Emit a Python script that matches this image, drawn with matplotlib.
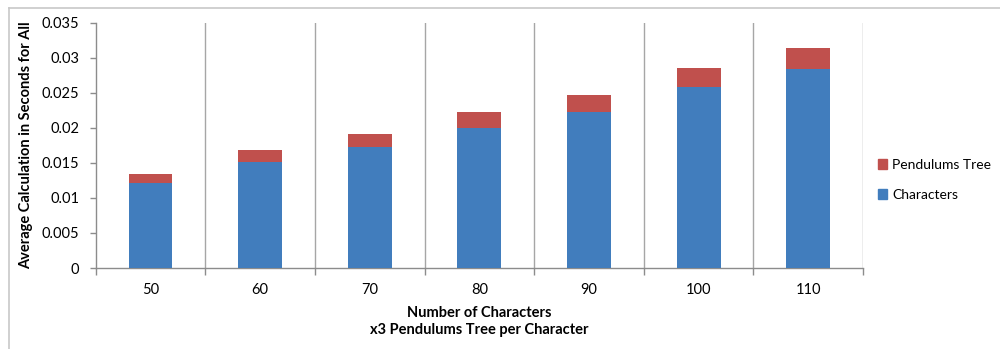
import numpy as np
import matplotlib
matplotlib.use("Agg")
import matplotlib.pyplot as plt
from matplotlib.lines import Line2D
from matplotlib.patches import Patch

plt.rcParams["font.family"] = ["Lato", "DejaVu Sans"]

characters = [50, 60, 70, 80, 90, 100, 110]
char_time = [0.0121, 0.0151, 0.0172, 0.0200, 0.0222, 0.0258, 0.0284]
pendulum_time = [0.00138, 0.00167, 0.0019, 0.00228, 0.00252, 0.00276, 0.003]

blue = "#417DBD"
red = "#C0504D"
axis_gray = "#8C8C8C"

fig = plt.figure(figsize=(10, 3.49), dpi=100)
ax = fig.add_axes([0.0957, 0.232, 0.7673, 0.703])

x = np.arange(len(characters))
ax.bar(x, char_time, width=0.4, color=blue, label="Characters", zorder=3)
ax.bar(x, pendulum_time, width=0.4, bottom=char_time, color=red,
       label="Pendulums Tree", zorder=3)

ax.set_xlim(-0.5, len(characters) - 0.5)
ax.set_ylim(0, 0.035)
ax.set_yticks(np.arange(0, 0.0351, 0.005))
ax.set_yticklabels(["0", "0.005", "0.01", "0.015", "0.02", "0.025", "0.03", "0.035"])
ax.set_xticks(x)
ax.set_xticklabels([str(c) for c in characters])

# category separators drawn as vertical grid lines
bounds = np.arange(len(characters) + 1) - 0.5
for b in bounds[1:]:
    ax.axvline(b, color="#A6A6A6", lw=1.0, zorder=1)
ax.set_xticks(bounds, minor=True)
ax.tick_params(axis="x", which="minor", length=5, color=axis_gray, width=1)
ax.tick_params(axis="x", which="major", length=0, pad=11, labelsize=10.5)
ax.tick_params(axis="y", length=4, color=axis_gray, width=1, pad=8, labelsize=10.5)

for s in ["top", "right"]:
    ax.spines[s].set_visible(False)
for s in ["left", "bottom"]:
    ax.spines[s].set_color(axis_gray)
    ax.spines[s].set_linewidth(1.0)

ax.set_ylabel("Average Calculation in Seconds for All", fontsize=10.5,
              fontweight="bold", labelpad=6)
ax.set_xlabel("Number of Characters\nx3 Pendulums Tree per Character",
              fontsize=10.5, fontweight="bold", labelpad=6, linespacing=1.35)

handles = [Patch(color=red, label="Pendulums Tree"), Patch(color=blue, label="Characters")]
fig.legend(handles=handles, loc="center left", bbox_to_anchor=(0.868, 0.485),
           frameon=False, fontsize=10, handlelength=0.7, handleheight=0.7,
           handletextpad=0.35, labelspacing=1.3, borderpad=0.2)

# outer chart frame (top and left edges visible)
fig.add_artist(Line2D([0.0085, 1.0], [1 - 7.5 / 349] * 2, color="#C8C8C8", lw=1.2,
                      transform=fig.transFigure))
fig.add_artist(Line2D([0.0085] * 2, [0.0, 1 - 7.5 / 349], color="#C8C8C8", lw=1.2,
                      transform=fig.transFigure))

fig.savefig("out.png", dpi=100)
